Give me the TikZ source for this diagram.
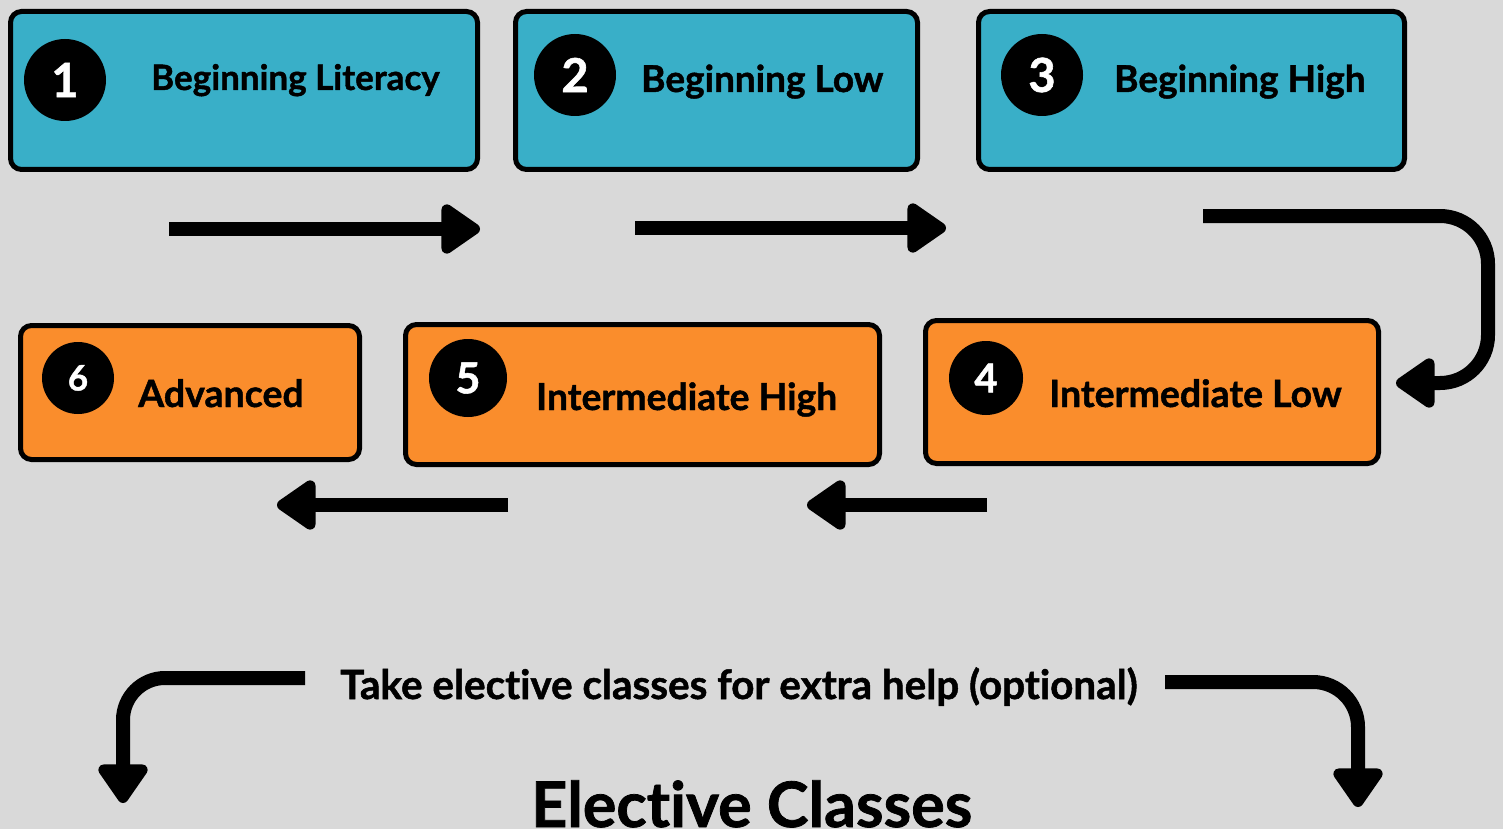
\documentclass[tikz,border=0pt]{standalone}
\usepackage{fontspec}
\setmainfont{Lato}[Ligatures=NoCommon, BoldFeatures={FakeBold=1.2}]
\usetikzlibrary{arrows.meta}
\definecolor{bg}{HTML}{D9D9D9}
\definecolor{teal}{HTML}{39AFC8}
\definecolor{orng}{HTML}{FA8D2C}
\tikzset{
  levelbox/.style={draw=black, line width=5pt, rounded corners=11pt, inner sep=0pt, outer sep=0pt},
  tealbox/.style={levelbox, fill=teal},
  orngbox/.style={levelbox, fill=orng},
  numdot/.style={circle, fill=black, text=white, inner sep=0pt, font=\bfseries\fontsize{#1}{#1}\selectfont},
  lbl/.style={anchor=base west, inner sep=0pt, font=\bfseries\fontsize{#1}{#1}\selectfont},
  bigarrow/.style={line width=14pt, -{Triangle[length=43pt,width=56pt,round]}},
}
\begin{document}
\begin{tikzpicture}[x=1pt,y=-1pt]
\useasboundingbox (0,0) rectangle (1503,829);
\fill[bg] (0,0) rectangle (1503,829);
% row 1
\node[tealbox, minimum width=467pt, minimum height=158pt] (b1) at (244,90.5) {};
\node[tealbox, minimum width=402pt, minimum height=158pt] (b2) at (716.5,90.5) {};
\node[tealbox, minimum width=426pt, minimum height=158pt] (b3) at (1191.5,90.5) {};
\node[numdot=47, minimum size=82pt] (n1) at (65,80) {1};
\node[numdot=47, minimum size=82pt] (n2) at (575,75) {2};
\node[numdot=47, minimum size=82pt] (n3) at (1042,75) {3};
\node[lbl=35] (t1) at (151,90) {Beginning Literacy};
\node[lbl=37] (t2) at (641,92) {Beginning Low};
\node[lbl=37] (t3) at (1114,92) {Beginning High};
% row 2
\node[orngbox, minimum width=339pt, minimum height=134pt] (b6) at (190,392.5) {};
\node[orngbox, minimum width=474pt, minimum height=140pt] (b5) at (642.5,394.5) {};
\node[orngbox, minimum width=453pt, minimum height=143pt] (b4) at (1152,392) {};
\node[numdot=35, minimum size=72pt] (n6) at (78,378) {6};
\node[numdot=43, minimum size=78pt] (n5) at (468,378) {5};
\node[numdot=40, minimum size=74pt] (n4) at (986,378) {4};
\node[lbl=37.5] (t6) at (138,407) {Advanced};
\node[lbl=37.3] (t5) at (536,410) {Intermediate High};
\node[lbl=37.4] (t4) at (1049,407) {Intermediate Low};
% arrows row 1
\coordinate (a1s) at (169,229); \coordinate (a1e) at (480,229);
\coordinate (a2s) at (635,228); \coordinate (a2e) at (946,228);
\draw[bigarrow] (a1s) -- (a1e);
\draw[bigarrow] (a2s) -- (a2e);
% turn arrow
\coordinate (a3s) at (1203,216); \coordinate (a3c1) at (1488,216);
\coordinate (a3c2) at (1488,383); \coordinate (a3e) at (1396,383);
\draw[bigarrow, rounded corners=48pt] (a3s) -- (a3c1) -- (a3c2) -- (a3e);
% arrows row 2
\coordinate (a4s) at (508,505); \coordinate (a4e) at (277,505);
\coordinate (a5s) at (987,505); \coordinate (a5e) at (807,505);
\draw[bigarrow] (a4s) -- (a4e);
\draw[bigarrow] (a5s) -- (a5e);
% bottom
\node[lbl=40.4] (opt) at (340,699) {Take elective classes for extra help (optional)};
\node[lbl=62.8] (ec) at (531,827) {Elective Classes};
\coordinate (a6s) at (305,678); \coordinate (a6c) at (123,678); \coordinate (a6e) at (123,803);
\coordinate (a7s) at (1165,682); \coordinate (a7c) at (1358,682); \coordinate (a7e) at (1358,807);
\draw[bigarrow, rounded corners=42pt] (a6s) -- (a6c) -- (a6e);
\draw[bigarrow, rounded corners=45pt] (a7s) -- (a7c) -- (a7e);
\end{tikzpicture}
\end{document}
